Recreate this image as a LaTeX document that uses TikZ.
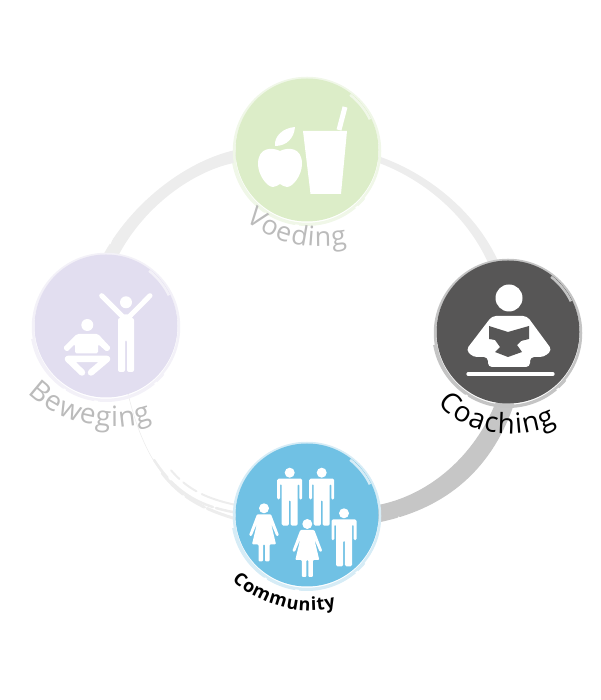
\documentclass[tikz,border=0pt]{standalone}
\usepackage{fontspec}
\usepackage{tikz}
\usetikzlibrary{backgrounds,decorations.text}
\newfontfamily\labelfont{Open Sans}
\definecolor{voedgreen}{HTML}{DCEDC8}
\definecolor{voedrim}{HTML}{F0F7E8}
\definecolor{coachgrey}{HTML}{575656}
\definecolor{coachrim}{HTML}{C4C4C4}
\definecolor{commblue}{HTML}{70C1E4}
\definecolor{commrim}{HTML}{D6ECF6}
\definecolor{bewlilac}{HTML}{E2DEF0}
\definecolor{bewrim}{HTML}{F3F1F8}
\definecolor{ringlight}{HTML}{EDEDED}
\definecolor{ringdark}{HTML}{C6C6C6}
\definecolor{labelgrey}{HTML}{BBBBBB}
\tikzset{
  disc/.style={circle,minimum size=143pt,inner sep=0pt},
  brush/.style={draw=none,fill=#1},
  scratch/.style={ringlight,line width=#1,line cap=round},
  icon/.style={fill=white,draw=none},
  iconline/.style={white,line width=#1,line cap=round,line join=round},
  manfig/.pic={
    \fill (0,0) circle[radius=5];
    \fill[rounded corners=1.5pt] (-12.5,-6) -- (12.5,-6) -- (12.5,-27) -- (9.7,-27) -- (9.7,-11) -- (8,-11)
      -- (8,-53) -- (0.8,-53) -- (0.8,-27) -- (-0.8,-27) -- (-0.8,-53) -- (-8,-53) -- (-8,-11)
      -- (-9.7,-11) -- (-9.7,-27) -- (-12.5,-27) -- cycle;
  },
  womanfig/.pic={
    \fill (0,0) circle[radius=5];
    \fill[rounded corners=1pt] (-7,-6) -- (7,-6) -- (15,-27) -- (12.5,-28) -- (7,-15) -- (12,-36)
      -- (5.5,-36) -- (5.5,-53) -- (1,-53) -- (1,-36) -- (-1,-36) -- (-1,-53) -- (-5.5,-53) -- (-5.5,-36)
      -- (-12,-36) -- (-7,-15) -- (-12.5,-28) -- (-15,-27) -- cycle;
  }
}
\begin{document}
\begin{tikzpicture}[x=1pt,y=1pt]
\useasboundingbox (0,0) rectangle (600,700);

\node[disc,fill=voedgreen] (voeding) at (307,550) {};
\node[disc,fill=coachgrey] (coaching) at (508,368) {};
\node[disc,fill=commblue] (community) at (307,185) {};
\node[disc,fill=bewlilac] (beweging) at (106,374) {};

\begin{scope}[on background layer]
% ring pieces
\fill[brush=ringlight] (voeding.180) .. controls (190,540) and (135,502) .. (beweging.92)
  -- (beweging.80) .. controls (145,495) and (195,530) .. (voeding.190) -- cycle;
\fill[brush=ringlight] (voeding.-5) .. controls (425,528) and (475,490) .. (coaching.98)
  -- (coaching.106) .. controls (465,488) and (420,522) .. (voeding.-10) -- cycle;
\fill[brush=ringdark] (community.8) .. controls (430,205) and (475,245) .. (coaching.-100)
  -- (coaching.-85) .. controls (490,225) and (440,190) .. (community.-6) -- cycle;
\draw[scratch=3,dash pattern=on 30pt off 3pt on 22pt off 3pt on 30pt off 200pt] (community.183) .. controls (190,195) and (150,215) .. (beweging.-72);
\draw[scratch=2,dash pattern=on 36pt off 6pt on 16pt off 5pt on 12pt off 200pt] (community.172) .. controls (190,205) and (160,222) .. (beweging.-68);
\draw[scratch=2.5,dash pattern=on 20pt off 3pt on 50pt off 5pt on 22pt off 200pt] (community.178) .. controls (195,195) and (155,210) .. (beweging.-74);
\draw[scratch=0.6] (community.183) .. controls (190,195) and (150,215) .. (beweging.-72);
% rims
\foreach \discname/\rimcol in {voeding/voedrim,coaching/coachrim,community/commrim,beweging/bewrim}{
  \draw[\rimcol,line width=2.5pt] ([shift={(0,-1)}]\discname.center) circle[radius=73];
  \draw[\rimcol,line width=2pt,dash pattern=on 60pt off 3pt on 30pt off 4pt] ([shift={(190:75)}]\discname.center) arc[start angle=190,end angle=320,radius=75];
}
\end{scope}

% streaks on the discs
\foreach \discname/\rimcol in {voeding/voedrim,coaching/coachrim,community/commrim,beweging/bewrim}{
  \draw[\rimcol,line width=2.5pt] ([shift={(52:70)}]\discname.center) arc[start angle=52,end angle=26,radius=70];
}
\draw[white,line width=1pt] (398,183) -- (404,181);
\draw[white,line width=1pt] (110,456) -- (114,466);

% Voeding icon
\begin{scope}[shift={(voeding.center)},every path/.append style={icon}]
\fill (-4,19) -- (40,19) -- (34,-44) -- (3.5,-44) -- cycle;
\fill (-27,-1) .. controls (-35,3) and (-49,3) .. (-49,-14) .. controls (-49,-25) and (-40,-37) .. (-34,-37)
  .. controls (-31,-37) and (-29,-35) .. (-27,-34) .. controls (-25,-35) and (-23,-37) .. (-20,-37)
  .. controls (-14,-37) and (-5,-25) .. (-5,-14) .. controls (-5,3) and (-19,3) .. (-27,-1) -- cycle;
\fill (-32,4) .. controls (-33,14) and (-24,22) .. (-12,23) .. controls (-13,12) and (-20,4) .. (-32,4) -- cycle;
\end{scope}
\draw[iconline=5pt,line cap=butt] ([shift={(32,20)}]voeding.center) -- ([shift={(38,43)}]voeding.center);

% Coaching icon
\begin{scope}[shift={(coaching.center)}]
\fill[icon] (1,34) circle[radius=13.5];
\fill[icon,rounded corners=4pt] (-16,16) -- (19,16) -- (44,-18) -- (36,-25) -- (22,-25) -- (22,-35) -- (-20,-35) -- (-20,-25) -- (-35,-25) -- (-42,-18) -- cycle;
\fill[coachgrey] (-19,6) -- (0,0) -- (21,6) -- (21,-7) -- (13,-9) -- (9,-13) -- (14,-20) -- (0,-25) -- (-13,-20) -- (-8,-15) -- (-13,-8) -- (-19,-7) -- cycle;
\draw[iconline=3.2pt] (-40,-42) -- (45,-42);
\end{scope}

% Community icon
\begin{scope}[shift={(community.center)},every path/.append style={icon}]
\pic at (-17.3,42.3) {manfig};
\pic at (14.7,42.3) {manfig};
\pic at (37,1.7) {manfig};
\pic at (-43,6.7) {womanfig};
\pic at (0.3,-9) {womanfig};
\end{scope}

% Beweging icon
\begin{scope}[shift={(beweging.center)}]
\fill[icon] (20,23.7) circle[radius=6];
\fill[icon,rounded corners=2pt] (12,8) -- (28,8) -- (28,-46) -- (21,-46) -- (21,-14) -- (19,-14) -- (19,-46) -- (12,-46) -- cycle;
\draw[iconline=5pt] (-4.3,30.3) -- (17,9) -- (23,9) -- (44,30.3);
\fill[icon] (-18.7,1) circle[radius=6];
\fill[icon,rounded corners=1.5pt] (-29,-8) -- (-8,-8) -- (5,-22) -- (1,-26) -- (-8,-18) -- (-8,-27.3) -- (-31,-27.3) -- (-31,-18) -- (-39,-26) -- (-43,-22) -- cycle;
\draw[iconline=6.5pt] (-24,-46.5) -- (-38,-33) -- (1,-33) -- (-15,-46.5);
\end{scope}

% labels
\path[decorate,decoration={text along path,text align={fit to path},
  text={|\labelfont\fontsize{27}{27}\selectfont\color{labelgrey}|Voeding}}]
  (246,480) .. controls (268,460) and (305,448) .. (347,456);
\path[decorate,decoration={text along path,text align={fit to path},
  text={|\labelfont\fontsize{28}{28}\selectfont\color{black}|Coaching}}]
  (438,297) .. controls (460,268) and (515,255) .. (556,277);
\path[decorate,decoration={text along path,text align={fit to path},
  text={|\labelfont\bfseries\fontsize{18}{18}\selectfont\color{black}|Community}}]
  (232,120) .. controls (255,97) and (300,82) .. (336,93);
\path[decorate,decoration={text along path,text align={fit to path},
  text={|\labelfont\fontsize{28}{28}\selectfont\color{labelgrey}|Beweging}}]
  (28,307) .. controls (60,275) and (115,265) .. (152,280);
\end{tikzpicture}
\end{document}
